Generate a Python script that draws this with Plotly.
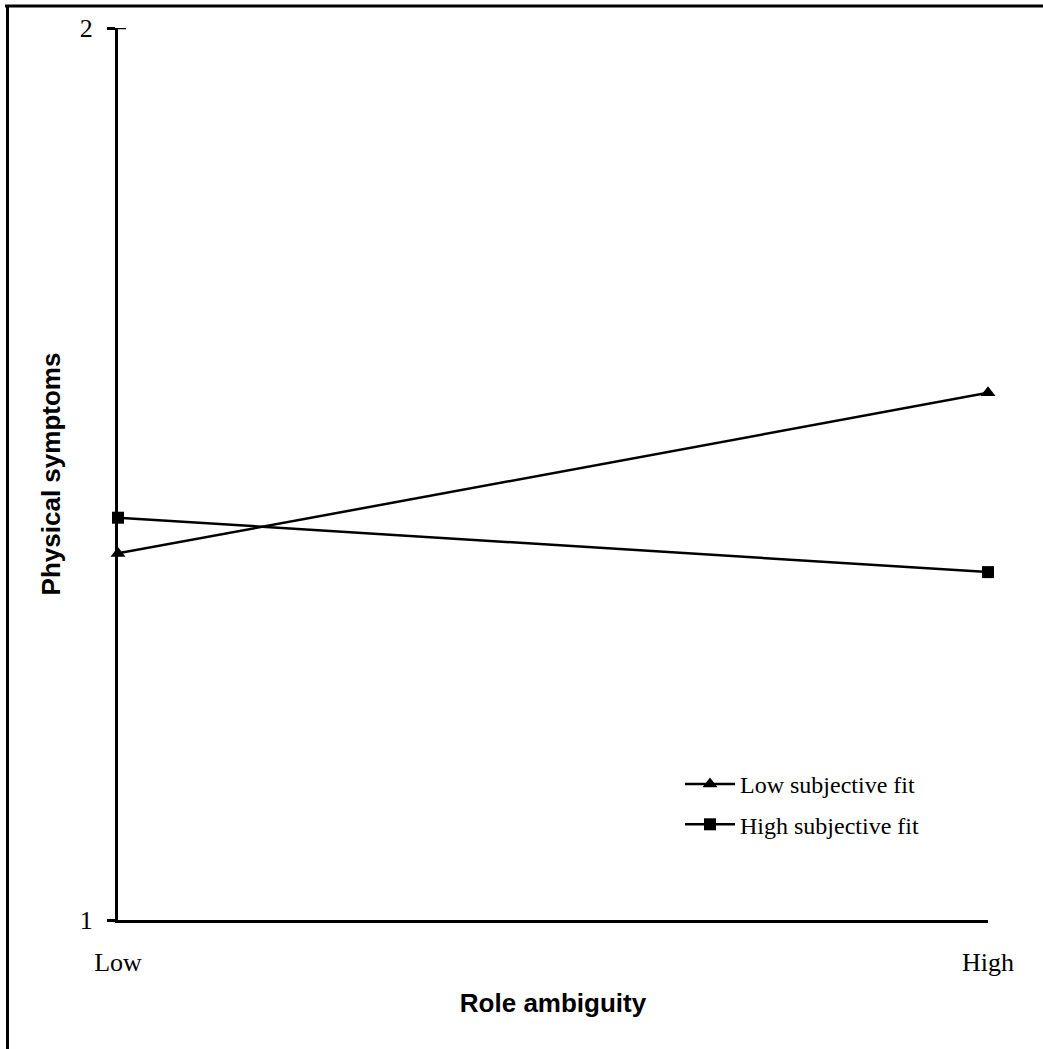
import plotly.graph_objects as go

x_categories = ["Low", "High"]
x_positions = [0, 1]
low_fit_values = [1.411, 1.591]
high_fit_values = [1.451, 1.390]
y_ticks = [1, 2]
y_tick_labels = ["1", "2"]

W, H = 1043, 1049
L, R, T, B = 118, 55, 28, 129
pw, ph = W - L - R, H - T - B

def px_x(p):
    return (p - L) / pw

def px_y(p):
    return (H - B - p) / ph

serif = "Liberation Serif"
sans = "Liberation Sans"

fig = go.Figure()
fig.add_trace(go.Scatter(
    x=x_positions, y=low_fit_values, name="Low subjective fit",
    mode="lines+markers", legendgroup="a",
    line=dict(color="black", width=2.5),
    marker=dict(symbol="triangle-up", size=13, color="black"),
    cliponaxis=False,
))
fig.add_trace(go.Scatter(
    x=x_positions, y=high_fit_values, name="High subjective fit",
    mode="lines+markers", legendgroup="b",
    line=dict(color="black", width=2.5),
    marker=dict(symbol="square", size=12, color="black"),
    cliponaxis=False,
))

fig.update_layout(
    width=W, height=H,
    margin=dict(l=L, r=R, t=T, b=B),
    paper_bgcolor="white", plot_bgcolor="white",
    font=dict(family=serif, color="black", size=26),
    legend=dict(
        x=px_x(680), y=px_y(762), xanchor="left", yanchor="top",
        font=dict(family=serif, size=24, color="black"),
        bgcolor="rgba(0,0,0,0)", tracegroupgap=6, itemwidth=50,
        traceorder="grouped",
    ),
    xaxis=dict(
        range=[0, 1], tickvals=x_positions, ticktext=x_categories,
        showline=True, linecolor="black", linewidth=3,
        showgrid=False, zeroline=False, ticks="",
        tickfont=dict(family=serif, size=26, color="black"),
        ticklabelstandoff=17,
        title=dict(text="Role ambiguity", standoff=18,
                   font=dict(family=sans, size=26, weight="bold", color="black")),
    ),
    yaxis=dict(
        range=[1, 2], tickvals=y_ticks, ticktext=y_tick_labels,
        showline=True, linecolor="black", linewidth=3,
        showgrid=False, zeroline=False, ticks="outside", ticklen=8,
        tickwidth=2.5, tickcolor="black",
        tickfont=dict(family=serif, size=26, color="black"),
        ticklabelstandoff=9,
        title=dict(text="Physical symptoms", standoff=12,
                   font=dict(family=sans, size=26, weight="bold", color="black")),
    ),
    shapes=[
        dict(type="line", xref="paper", yref="paper",
             x0=px_x(5), x1=px_x(1060), y0=px_y(6), y1=px_y(6),
             line=dict(color="black", width=3)),
        dict(type="line", xref="paper", yref="paper",
             x0=px_x(7.5), x1=px_x(7.5), y0=px_y(5), y1=px_y(1060),
             line=dict(color="black", width=3)),
        dict(type="line", xref="paper", yref="y",
             x0=0, x1=8 / pw, y0=2, y1=2,
             line=dict(color="black", width=2.5)),
    ],
)

fig.write_html("out.html", config={"displayModeBar": False},
               post_script="document.body.style.margin='0';")
